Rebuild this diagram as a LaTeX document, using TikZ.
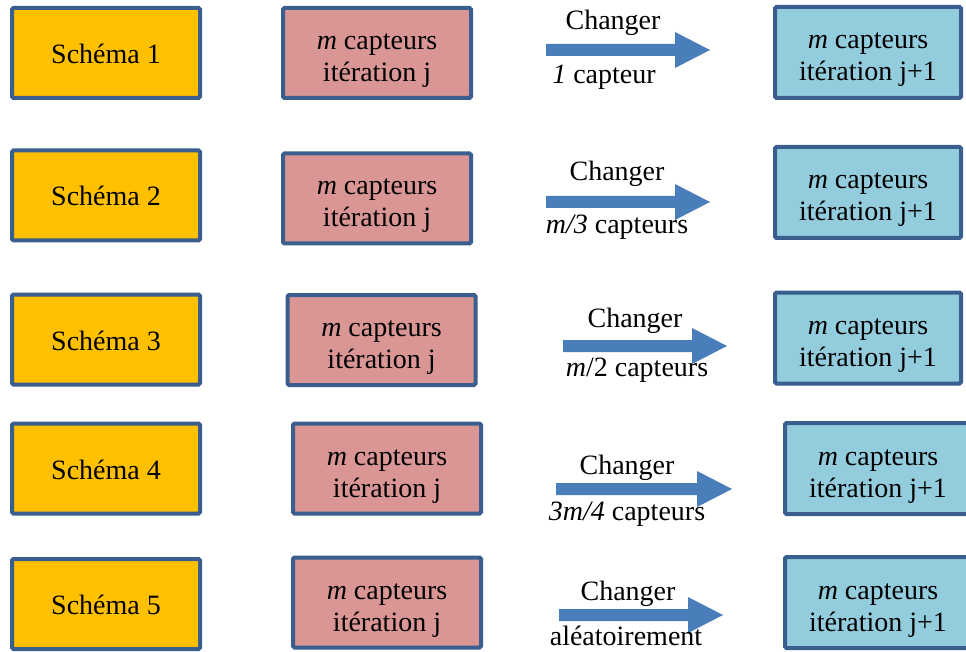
\documentclass[tikz,border=0pt]{standalone}
\usepackage{fontspec}
\setmainfont{Liberation Serif}
\definecolor{bordc}{HTML}{3A5F8E}
\definecolor{yellowc}{HTML}{FFC000}
\definecolor{pinkc}{HTML}{D99694}
\definecolor{bluec}{HTML}{93CDDD}
\definecolor{arrowc}{HTML}{4A7EBB}
\newcommand\blockarrow[4]{%
  \fill[arrowc] (#1,#2-6) -- (#3,#2-6) -- (#3,#2-18) -- (#4,#2) -- (#3,#2+18) -- (#3,#2+6) -- (#1,#2+6) -- cycle;}
\tikzset{
  box/.style={draw=bordc, line width=4pt, minimum width=188pt, minimum height=90pt,
    align=center, inner sep=0pt, rounded corners=1.5pt, font=\fontsize{28}{32}\selectfont,
    text height=57pt, text depth=0pt},
  schema/.style={box, fill=yellowc, text height=24pt, text depth=3pt},
  iterj/.style={box, fill=pinkc},
  iterjj/.style={box, fill=bluec, minimum width=186pt, minimum height=91pt},
  lab/.style={inner sep=0pt, font=\fontsize{28}{32}\selectfont, text height=23pt, text depth=6pt}
}
\begin{document}
\begin{tikzpicture}[x=1pt,y=-1pt]
\useasboundingbox (0,0) rectangle (966,652);
\clip (0,0) rectangle (966,652);
% row 1
\node[schema] (s1) at (106,53) {Schéma 1};
\node[iterj] (p1) at (377,53) {\textit{m} capteurs\\itération j};
\node[iterjj] (b1) at (868,52.5) {\textit{m} capteurs\\itération j+1};
\blockarrow{546}{50}{675}{710}
\node[lab] (c1) at (613,21) {Changer};
\node[lab] (d1) at (604,75) {\textit{1} capteur};
% row 2
\node[schema] (s2) at (106,195.5) {Schéma 2};
\node[iterj] (p2) at (377,198.5) {\textit{m} capteurs\\itération j};
\node[iterjj] (b2) at (868,192.5) {\textit{m} capteurs\\itération j+1};
\blockarrow{546}{202}{675}{710}
\node[lab] (c2) at (617,172) {Changer};
\node[lab] (d2) at (617,225) {\textit{m/3} capteurs};
% row 3
\node[schema] (s3) at (106,339.5) {Schéma 3};
\node[iterj] (p3) at (381.5,340) {\textit{m} capteurs\\itération j};
\node[iterjj] (b3) at (868,338) {\textit{m} capteurs\\itération j+1};
\blockarrow{563}{346}{692}{727}
\node[lab] (c3) at (635,319) {Changer};
\node[lab] (d3) at (637,368) {\textit{m}/2 capteurs};
% row 4
\node[schema] (s4) at (106,468.5) {Schéma 4};
\node[iterj] (p4) at (387,468.5) {\textit{m} capteurs\\itération j};
\node[iterjj] (b4) at (878,468.5) {\textit{m} capteurs\\itération j+1};
\blockarrow{556}{489}{697}{732}
\node[lab] (c4) at (627,466) {Changer};
\node[lab] (d4) at (627,512) {\textit{3m/4} capteurs};
% row 5
\node[schema] (s5) at (106,604) {Schéma 5};
\node[iterj] (p5) at (387,602.5) {\textit{m} capteurs\\itération j};
\node[iterjj] (b5) at (878,602.5) {\textit{m} capteurs\\itération j+1};
\blockarrow{559}{615}{688}{723}
\node[lab] (c5) at (628,592) {Changer};
\node[lab] (d5) at (626,637) {aléatoirement};
\end{tikzpicture}
\end{document}
